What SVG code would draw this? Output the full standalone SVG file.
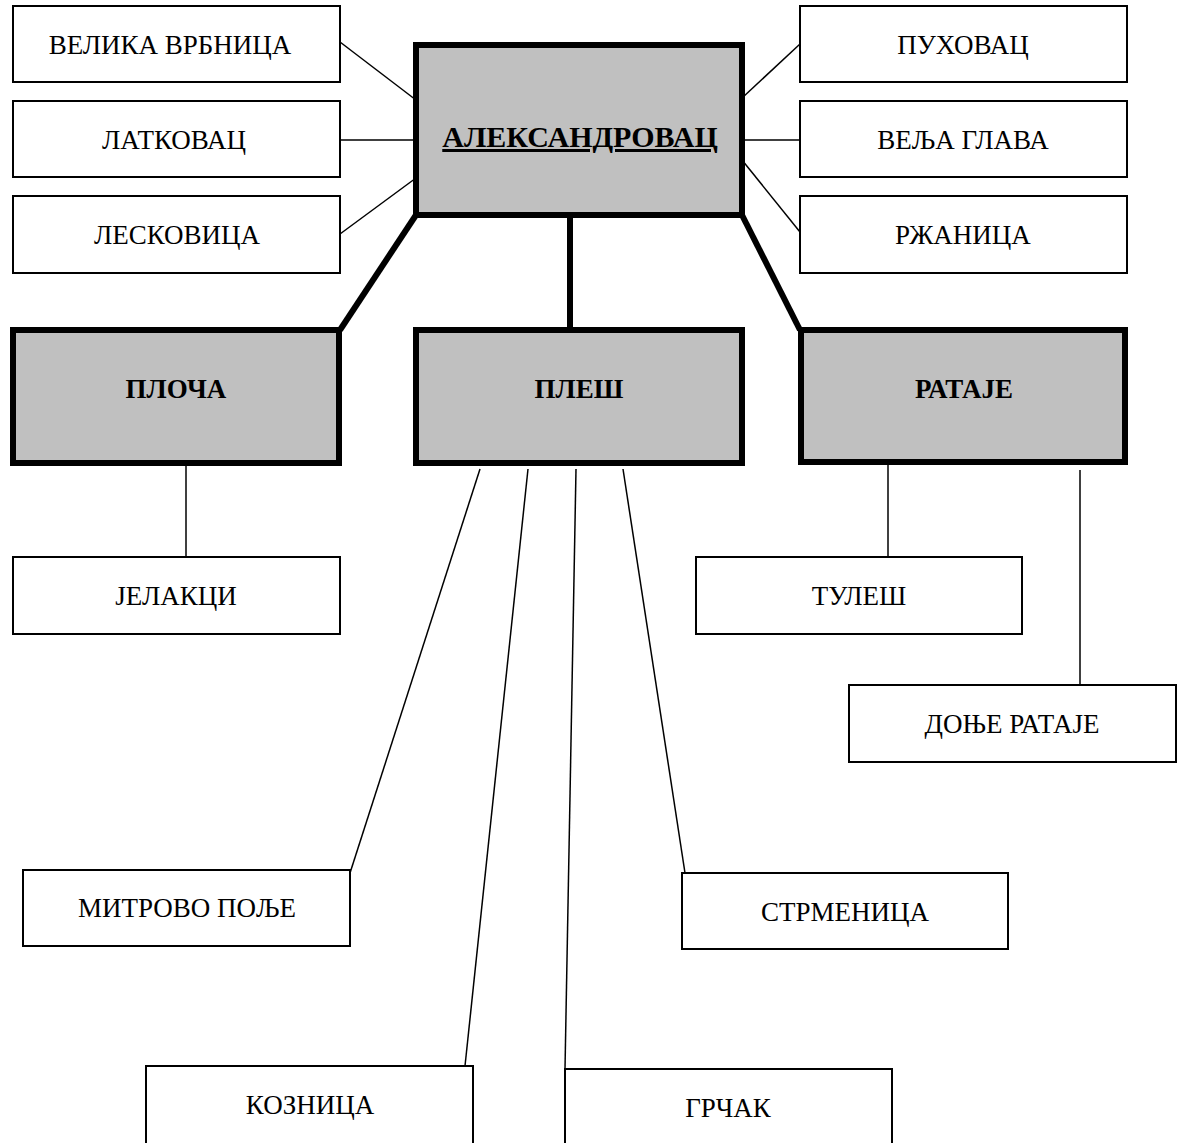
<svg xmlns="http://www.w3.org/2000/svg" width="1178" height="1143" viewBox="0 0 1178 1143">
<style>
.t{font-family:"Liberation Serif","Times New Roman",serif;font-size:27px;fill:#000;text-anchor:middle}
.b{font-weight:bold}
.box{fill:#fff;stroke:#000;stroke-width:2}
.main{fill:#c0c0c0;stroke:#000;stroke-width:6}
.thin{stroke:#000;stroke-width:1.5;fill:none}
.thick{stroke:#000;stroke-width:6;fill:none}
</style>
<rect width="1178" height="1143" fill="#fff"/>
<g id="connectors">
<line class="thin" x1="340" y1="42" x2="416" y2="100"/>
<line class="thin" x1="340" y1="140" x2="416" y2="140"/>
<line class="thin" x1="340" y1="234" x2="416" y2="178"/>
<line class="thin" x1="742" y1="98" x2="800" y2="44"/>
<line class="thin" x1="742" y1="140" x2="800" y2="140"/>
<line class="thin" x1="742" y1="160" x2="800" y2="232"/>
<line class="thick" x1="416" y1="215" x2="340" y2="330"/>
<line class="thick" x1="570" y1="215" x2="570" y2="332"/>
<line class="thick" x1="742" y1="215" x2="800" y2="330"/>
<line class="thin" x1="186" y1="466" x2="186" y2="557"/>
<line class="thin" x1="480" y1="469" x2="350" y2="873"/>
<line class="thin" x1="528" y1="469" x2="465" y2="1066"/>
<line class="thin" x1="576" y1="469" x2="565" y2="1069"/>
<line class="thin" x1="623" y1="469" x2="685" y2="873"/>
<line class="thin" x1="888" y1="465" x2="888" y2="557"/>
<line class="thin" x1="1080" y1="470" x2="1080" y2="685"/>
</g>
<g id="aleksandrovac">
<rect class="main" x="416" y="45" width="326" height="170"/>
<text class="t b" x="580" y="147" style="font-size:30px" text-decoration="underline">АЛЕКСАНДРОВАЦ</text>
</g>
<g id="velika-vrbnica"><rect class="box" x="13" y="6" width="327" height="76"/><text class="t" x="170" y="54">ВЕЛИКА ВРБНИЦА</text></g>
<g id="latkovac"><rect class="box" x="13" y="101" width="327" height="76"/><text class="t" x="174" y="149">ЛАТКОВАЦ</text></g>
<g id="leskovica"><rect class="box" x="13" y="196" width="327" height="77"/><text class="t" x="177" y="244">ЛЕСКОВИЦА</text></g>
<g id="puhovac"><rect class="box" x="800" y="6" width="327" height="76"/><text class="t" x="963" y="54">ПУХОВАЦ</text></g>
<g id="velja-glava"><rect class="box" x="800" y="101" width="327" height="76"/><text class="t" x="963" y="149">ВЕЉА ГЛАВА</text></g>
<g id="rzanica"><rect class="box" x="800" y="196" width="327" height="77"/><text class="t" x="963" y="244">РЖАНИЦА</text></g>
<g id="ploca"><rect class="main" x="13" y="330" width="326" height="133"/><text class="t b" x="176" y="398">ПЛОЧА</text></g>
<g id="ples"><rect class="main" x="416" y="330" width="326" height="133"/><text class="t b" x="579" y="398">ПЛЕШ</text></g>
<g id="rataje"><rect class="main" x="801" y="330" width="324" height="132"/><text class="t b" x="964" y="398">РАТАЈЕ</text></g>
<g id="jelakci"><rect class="box" x="13" y="557" width="327" height="77"/><text class="t" x="176" y="605">ЈЕЛАКЦИ</text></g>
<g id="tules"><rect class="box" x="696" y="557" width="326" height="77"/><text class="t" x="859" y="605">ТУЛЕШ</text></g>
<g id="donje-rataje"><rect class="box" x="849" y="685" width="327" height="77"/><text class="t" x="1012" y="733">ДОЊЕ РАТАЈЕ</text></g>
<g id="mitrovo-polje"><rect class="box" x="23" y="870" width="327" height="76"/><text class="t" x="187" y="917">МИТРОВО ПОЉЕ</text></g>
<g id="strmenica"><rect class="box" x="682" y="873" width="326" height="76"/><text class="t" x="845" y="921">СТРМЕНИЦА</text></g>
<g id="koznica"><rect class="box" x="146" y="1066" width="327" height="80"/><text class="t" x="310" y="1114">КОЗНИЦА</text></g>
<g id="grcak"><rect class="box" x="565" y="1069" width="327" height="80"/><text class="t" x="728" y="1117">ГРЧАК</text></g>
</svg>
